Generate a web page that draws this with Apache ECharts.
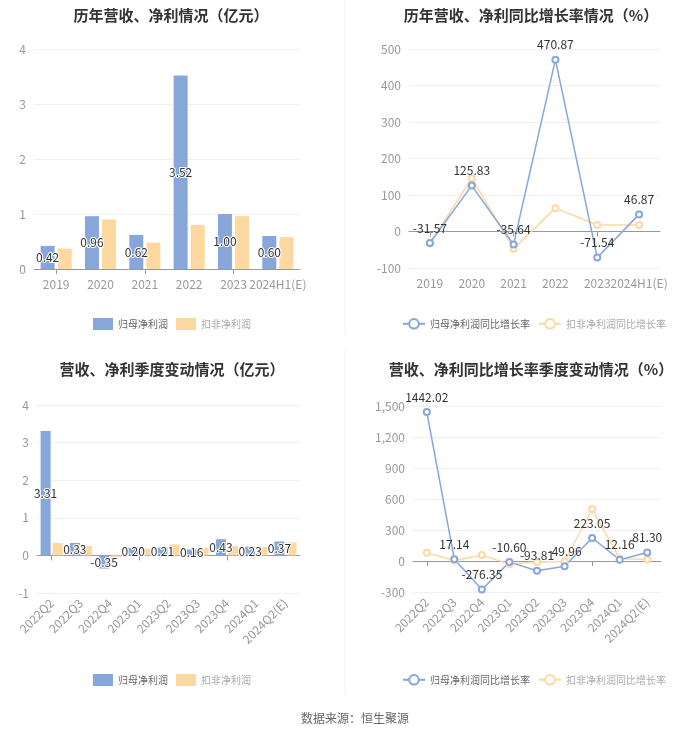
<!DOCTYPE html>
<html><head><meta charset="utf-8">
<script src="https://cdn.jsdelivr.net/npm/echarts@6/dist/echarts.min.js"></script>
<style>html,body{margin:0;padding:0;background:#fff}#c{width:700px;height:734px}</style>
</head><body><div id="c"></div>
<script>
const yearCats = ['2019','2020','2021','2022','2023','2024H1(E)'];
const yearNet = [0.42,0.96,0.62,3.52,1.00,0.60];
const yearDeduct = [0.37,0.90,0.48,0.80,0.96,0.58];
const yearNetGrowth = [-31.57,125.83,-35.64,470.87,-71.54,46.87];
const yearDeductGrowth = [-33,146,-47,64,18,18];
const qCats = ['2022Q2','2022Q3','2022Q4','2023Q1','2023Q2','2023Q3','2023Q4','2024Q1','2024Q2(E)'];
const qNet = [3.31,0.33,-0.35,0.20,0.21,0.16,0.43,0.23,0.37];
const qDeduct = [0.33,0.25,-0.05,0.18,0.29,0.20,0.25,0.22,0.35];
const qNetGrowth = [1442.02,17.14,-276.35,-10.60,-93.81,-49.96,223.05,12.16,81.30];
const qDeductGrowth = [80,5,58,-30,-10,-5,503,25,15];

const BLUE = '#87a7db', ORANGE = '#fdd8a1';
const FONT = '"Noto Sans CJK SC", "Noto Sans", sans-serif';
const chart = echarts.init(document.getElementById('c'));

const grids = [
  {left:34, top:49, width:266, height:220},
  {left:409, top:49, width:251, height:219},
  {left:37, top:405, width:263, height:188},
  {left:413, top:406, width:248, height:186}
];
const cats = [yearCats, yearCats, qCats, qCats];
const xAxes = [], yAxes = [];
const yCfg = [[0,4,1],[-100,500,100],[-1,4,1],[-300,1500,300]];
for (let i=0;i<4;i++){
  const rot = i>=2 ? 45 : 0;
  xAxes.push({type:'category', gridIndex:i, data:cats[i], position:'bottom',
    axisLine:{onZero:true, lineStyle:{color:'#999'}}, axisTick:{show:true, alignWithLabel:true, lineStyle:{color:'#999'}},
    axisLabel:{show:false}});
  xAxes.push({type:'category', gridIndex:i, data:cats[i], position:'bottom',
    axisLine:{show:false, onZero:false}, axisTick:{show:false},
    axisLabel:{color:'#999', fontSize:12, fontFamily:FONT, rotate:rot, interval:0, margin: i>=2?8:9}});
  yAxes.push({type:'value', gridIndex:i, min:yCfg[i][0], max:yCfg[i][1], interval:yCfg[i][2],
    axisLine:{show:false}, axisTick:{show:false},
    axisLabel:{color:'#999', fontSize:12, fontFamily:FONT},
    splitLine:{lineStyle:{color:'#eef0f3'}}});
}
const barLabel = {show:true, position:'inside', color:'#333', fontSize:12, fontFamily:FONT, textBorderColor:'#fff', textBorderWidth:2,
  formatter:p=>p.value.toFixed(2)};
const lineLabel = {show:true, position:'top', color:'#333', fontSize:12, fontFamily:FONT, formatter:p=>p.value.toFixed(2)};

const lineS = (name, xi, yi, data, color, label) => ({name, type:'line', xAxisIndex:xi, yAxisIndex:yi, data,
  symbol:'emptyCircle', symbolSize:6, itemStyle:{color}, lineStyle:{width:1.5, color}, label:label||{show:false}});

const series = [
  {name:'归母净利润', type:'bar', xAxisIndex:0, yAxisIndex:0, data:yearNet, barWidth:14, barGap:'22%', itemStyle:{color:BLUE}, label:barLabel},
  {name:'扣非净利润', type:'bar', xAxisIndex:0, yAxisIndex:0, data:yearDeduct, barWidth:14, barGap:'22%', itemStyle:{color:ORANGE}},
  lineS('扣非净利润同比增长率', 2, 1, yearDeductGrowth, ORANGE),
  lineS('归母净利润同比增长率', 2, 1, yearNetGrowth, BLUE, lineLabel),
  {name:'归母净利润', type:'bar', xAxisIndex:4, yAxisIndex:2, data:qNet, barWidth:10, barGap:'20%', itemStyle:{color:BLUE}, label:barLabel},
  {name:'扣非净利润', type:'bar', xAxisIndex:4, yAxisIndex:2, data:qDeduct, barWidth:10, barGap:'20%', itemStyle:{color:ORANGE}},
  lineS('扣非净利润同比增长率', 6, 3, qDeductGrowth, ORANGE),
  lineS('归母净利润同比增长率', 6, 3, qNetGrowth, BLUE, lineLabel)
];

const titleStyle = {color:'#333', fontSize:15, fontWeight:'bold', fontFamily:FONT};
const legendBase = {itemWidth:20, itemHeight:12, itemGap:8, width:300, textStyle:{color:'#666', fontSize:10, fontFamily:FONT}};
const barLegendData = [{name:'归母净利润', icon:'rect'},{name:'扣非净利润', icon:'rect', textStyle:{color:'#aaa'}}];
const lineLegendData = [{name:'归母净利润同比增长率'},{name:'扣非净利润同比增长率', textStyle:{color:'#aaa'}}];
chart.setOption({
  animation:false,
  textStyle:{fontFamily:FONT},
  title:[
    {text:'历年营收、净利情况（亿元）', left:166, top:3, textAlign:'center', textStyle:titleStyle},
    {text:'历年营收、净利同比增长率情况（%）', left:526, top:3, textAlign:'center', textStyle:titleStyle},
    {text:'营收、净利季度变动情况（亿元）', left:167, top:357, textAlign:'center', textStyle:titleStyle},
    {text:'营收、净利同比增长率季度变动情况（%）', left:526, top:357, textAlign:'center', textStyle:titleStyle},
    {text:'数据来源：恒生聚源', left:350, top:707, textAlign:'center', textStyle:{color:'#666', fontSize:12, fontWeight:'normal', fontFamily:FONT}}
  ],
  grid:grids,
  xAxis:xAxes,
  yAxis:yAxes,
  legend:[
    Object.assign({}, legendBase, {left:88, top:313, data:barLegendData}),
    Object.assign({}, legendBase, {left:397, top:313, itemWidth:22, data:lineLegendData}),
    Object.assign({}, legendBase, {left:88, top:669, data:barLegendData}),
    Object.assign({}, legendBase, {left:397, top:669, itemWidth:22, data:lineLegendData})
  ],
  graphic:[
    {type:'line', shape:{x1:345,y1:0,x2:345,y2:335}, style:{stroke:'#f2f2f2', lineWidth:1}},
    {type:'line', shape:{x1:345,y1:350,x2:345,y2:695}, style:{stroke:'#f2f2f2', lineWidth:1}}
  ],
  series:series
});
</script></body></html>
